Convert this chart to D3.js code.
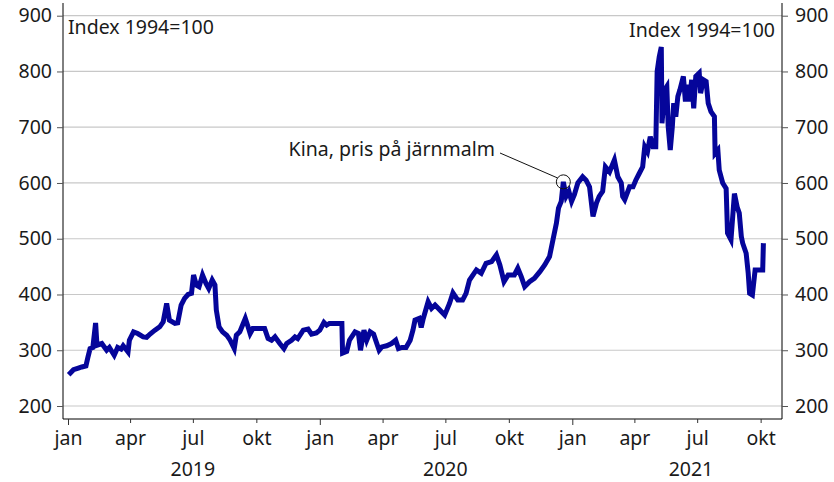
<!DOCTYPE html>
<html>
<head>
<meta charset="utf-8">
<script src="https://cdn.jsdelivr.net/npm/d3@7"></script>
<style>
  body { margin: 0; background: #fff; }
  svg text { font-family: "Noto Sans", sans-serif; fill: #1a1a1a; }
</style>
</head>
<body>
<div id="chart"></div>
<script>
// iron ore price, China, index 1994=100
var dates = [
  '2019-01-02','2019-01-09','2019-01-16','2019-01-21','2019-01-27','2019-01-30','2019-02-02','2019-02-06',
  '2019-02-10','2019-02-12','2019-02-19','2019-02-26','2019-03-02','2019-03-09','2019-03-14','2019-03-19',
  '2019-03-22','2019-03-29','2019-03-31','2019-04-06','2019-04-12','2019-04-20','2019-04-25','2019-04-30',
  '2019-05-07','2019-05-14','2019-05-19','2019-05-24','2019-05-28','2019-06-05','2019-06-09','2019-06-14',
  '2019-06-19','2019-06-24','2019-06-29','2019-07-02','2019-07-06','2019-07-10','2019-07-15','2019-07-20',
  '2019-07-24','2019-07-29','2019-08-02','2019-08-04','2019-08-08','2019-08-13','2019-08-19','2019-08-24',
  '2019-08-30','2019-09-02','2019-09-07','2019-09-12','2019-09-15','2019-09-19','2019-09-22','2019-09-26',
  '2019-10-03','2019-10-13','2019-10-18','2019-10-23','2019-10-28','2019-11-04','2019-11-10','2019-11-14',
  '2019-11-21','2019-11-26','2019-11-30','2019-12-08','2019-12-15','2019-12-20','2019-12-27','2020-01-01',
  '2020-01-07','2020-01-11','2020-01-15','2020-01-25','2020-02-02','2020-02-03','2020-02-09','2020-02-13',
  '2020-02-21','2020-02-26','2020-02-29','2020-03-05','2020-03-09','2020-03-14','2020-03-19','2020-03-22',
  '2020-03-27','2020-03-31','2020-04-07','2020-04-14','2020-04-20','2020-04-24','2020-04-29','2020-05-05',
  '2020-05-11','2020-05-15','2020-05-18','2020-05-24','2020-05-27','2020-05-30','2020-06-06','2020-06-11',
  '2020-06-16','2020-06-23','2020-06-30','2020-07-07','2020-07-12','2020-07-19','2020-07-26','2020-07-31',
  '2020-08-05','2020-08-15','2020-08-22','2020-08-29','2020-09-06','2020-09-13','2020-09-18','2020-09-24',
  '2020-09-30','2020-10-09','2020-10-14','2020-10-19','2020-10-24','2020-10-31','2020-11-07','2020-11-15',
  '2020-11-22','2020-11-29','2020-12-04','2020-12-09','2020-12-12','2020-12-16','2020-12-19','2020-12-23',
  '2020-12-27','2020-12-31','2021-01-04','2021-01-09','2021-01-16','2021-01-21','2021-01-26','2021-01-31',
  '2021-02-05','2021-02-09','2021-02-14','2021-02-18','2021-02-24','2021-03-03','2021-03-08','2021-03-13',
  '2021-03-15','2021-03-18','2021-03-25','2021-03-30','2021-04-03','2021-04-08','2021-04-13','2021-04-16',
  '2021-04-20','2021-04-24','2021-04-28','2021-05-02','2021-05-04','2021-05-07','2021-05-10','2021-05-11',
  '2021-05-15','2021-05-18','2021-05-20','2021-05-23','2021-05-26','2021-05-28','2021-05-31','2021-06-03',
  '2021-06-06','2021-06-11','2021-06-14','2021-06-17','2021-06-20','2021-06-23','2021-06-26','2021-06-29',
  '2021-07-04','2021-07-06','2021-07-10','2021-07-14','2021-07-17','2021-07-21','2021-07-26','2021-07-27',
  '2021-07-31','2021-08-02','2021-08-07','2021-08-12','2021-08-14','2021-08-19','2021-08-24','2021-08-28',
  '2021-08-31','2021-09-03','2021-09-05','2021-09-10','2021-09-13','2021-09-15','2021-09-19','2021-09-23',
  '2021-09-29','2021-10-04','2021-10-05'
]
var values = [
  256,265,268,270,272,288,303,305,
  349,309,312,300,305,291,305,302,
  308,297,318,333,330,324,323,329,
  336,342,351,384,354,348,349,381,
  393,400,402,435,417,414,435,420,
  411,426,417,372,342,333,327,318,
  303,327,333,348,357,342,330,339,
  339,339,321,318,324,312,303,312,
  318,324,321,336,338,329,331,336,
  350,345,348,348,348,295,298,318,
  333,330,300,336,318,333,329,318,
  300,306,308,312,318,303,305,305,
  318,336,354,357,341,357,387,375,
  381,372,363,384,403,390,390,402,
  426,444,438,456,459,471,453,423,
  435,435,447,432,414,423,429,441,
  453,468,498,528,555,567,602,576,
  585,567,579,600,611,605,593,540,
  564,576,585,629,620,641,611,600,
  576,570,593,593,605,617,629,665,
  656,683,665,665,800,826,844,707,
  767,773,701,659,701,743,719,755,
  767,791,746,776,746,785,734,791,
  797,761,785,782,743,728,719,653,
  659,623,600,590,510,498,581,557,
  546,504,492,474,438,402,399,444,
  444,444,492
]
var yTicks = [200, 300, 400, 500, 600, 700, 800, 900]
var monthNames = ['jan', 'apr', 'jul', 'okt']
var yearLabels = [['2019', '2019-07-01'], ['2020', '2020-07-01'], ['2021', '2021-06-22']]
var unitLabel = 'Index 1994=100'
var note = { text: 'Kina, pris på järnmalm', date: '2020-12-19', value: 602 }

var w = 834
var h = 482
var left = 63
var right = 782
var bottom = 419
var fontSize = '19.5px'
var parse = d3.timeParse('%Y-%m-%d')

var data = dates.map(function (d, i) { return { date: parse(d), value: values[i] } })

var x = d3.scaleTime()
  .domain([parse('2019-01-01'), parse('2021-01-01')])
  .range([68, 572.3])
var y = d3.scaleLinear()
  .domain([200, 900])
  .range([406, 15.7])

var svg = d3.select('#chart').append('svg')
  .attr('width', w)
  .attr('height', h)

// gridlines
svg.append('g').selectAll('line')
  .data(yTicks)
  .enter().append('line')
    .attr('x1', left).attr('x2', right)
    .attr('y1', function (d) { return y(d) }).attr('y2', function (d) { return y(d) })
    .attr('stroke', '#c8c8c8')
    .attr('stroke-width', 1.2)

// y axes, both sides
var yl = svg.append('g')
  .attr('transform', 'translate(' + left + ',0)')
  .call(d3.axisLeft(y).tickValues(yTicks).tickSize(6).tickPadding(5))
var yr = svg.append('g')
  .attr('transform', 'translate(' + right + ',0)')
  .call(d3.axisRight(y).tickValues(yTicks).tickSize(6).tickPadding(7))
;[yl, yr].forEach(function (g) {
  g.select('.domain').attr('d', 'M0,3V' + bottom)
  g.selectAll('text').style('font-family', '"Noto Sans", sans-serif').style('font-size', fontSize).attr('fill', '#1a1a1a')
  g.selectAll('line').attr('stroke', '#555')
})

// x axis
var monthTicks = d3.timeMonth.every(3).range(parse('2019-01-01'), parse('2021-10-15'))
var xa = svg.append('g')
  .attr('transform', 'translate(0,' + bottom + ')')
  .call(d3.axisBottom(x).tickValues(monthTicks).tickSize(4).tickPadding(8)
    .tickFormat(function (d) { return monthNames[Math.floor(d.getMonth() / 3)] }))
xa.select('.domain').attr('d', 'M' + left + ',0H' + right)
xa.selectAll('.tick line')
  .attr('y2', function (d) { return d.getMonth() === 0 ? 6 : 4 })
  .attr('stroke', '#333')
xa.selectAll('text').style('font-family', '"Noto Sans", sans-serif').style('font-size', fontSize).attr('fill', '#1a1a1a')

svg.append('g').selectAll('text')
  .data(yearLabels)
  .enter().append('text')
    .attr('x', function (d) { return x(parse(d[1])) })
    .attr('y', 476)
    .attr('text-anchor', 'middle')
    .style('font-size', fontSize)
    .text(function (d) { return d[0] })

// unit labels
svg.append('text').attr('x', 68).attr('y', 34).style('font-size', fontSize).text(unitLabel)
svg.append('text').attr('x', 775).attr('y', 37).attr('text-anchor', 'end').style('font-size', fontSize).text(unitLabel)

// the series
var line = d3.line()
  .x(function (d) { return x(d.date) })
  .y(function (d) { return y(d.value) })
svg.append('path')
  .datum(data)
  .attr('fill', 'none')
  .attr('stroke', '#05059a')
  .attr('stroke-width', 5)
  .attr('stroke-linejoin', 'miter')
  .attr('d', line)

// annotation
var cx = x(parse(note.date))
var cy = y(note.value)
svg.append('circle')
  .attr('cx', cx).attr('cy', cy).attr('r', 7)
  .attr('fill', 'none').attr('stroke', '#111').attr('stroke-width', 1)
svg.append('line')
  .attr('x1', 500).attr('y1', 153)
  .attr('x2', cx - 6).attr('y2', cy - 4)
  .attr('stroke', '#111').attr('stroke-width', 1)
svg.append('text')
  .attr('x', 495).attr('y', 156)
  .attr('text-anchor', 'end')
  .style('font-size', fontSize)
  .text(note.text)
</script>
</body>
</html>
